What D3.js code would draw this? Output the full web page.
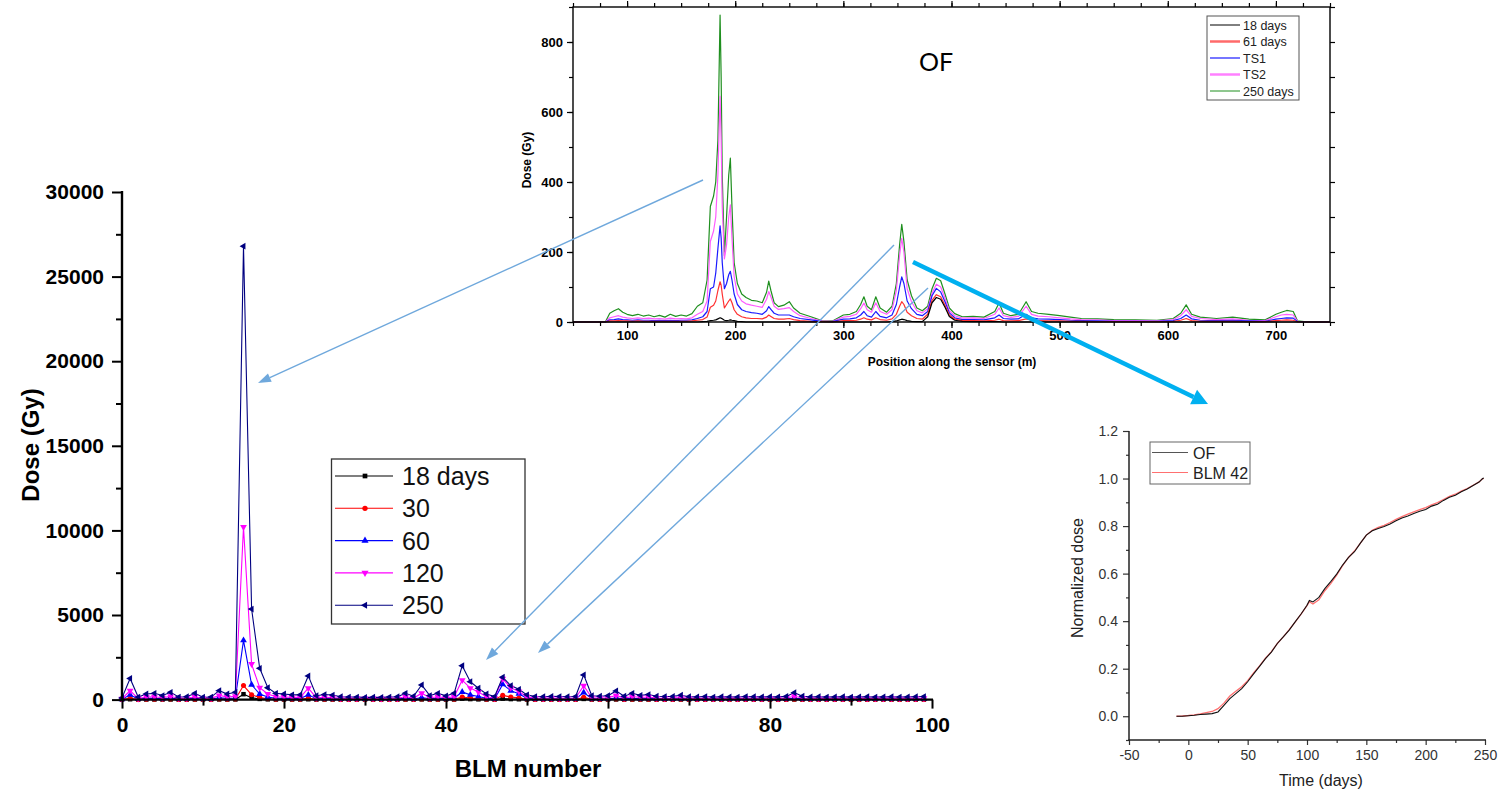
<!DOCTYPE html>
<html>
<head>
<meta charset="utf-8">
<script src="https://cdn.jsdelivr.net/npm/d3@7"></script>
<style>
  body { margin: 0; background: #fff; }
  svg { display: block; }
  text { font-family: "Liberation Sans", Arial, sans-serif; }
</style>
</head>
<body>
<svg id="fig" width="1500" height="792"></svg>
<script>
// ---- main chart: dose per BLM ----
const blmNumbers = d3.range(0, 100);
const blmLabels = ["18 days", "30", "60", "120", "250"];
const dose18 = [
  5, 20, 5, 5, 5, 5, 5, 5, 5, 5,
  5, 5, 8, 5, 8, 320, 110, 40, 15, 5,
  5, 5, 5, 20, 5, 5, 5, 5, 5, 5,
  5, 5, 5, 5, 5, 5, 5, 10, 5, 5,
  5, 5, 60, 30, 15, 5, 5, 60, 30, 20,
  5, 5, 5, 5, 5, 5, 5, 40, 5, 5,
  5, 8, 5, 5, 5, 5, 5, 5, 5, 5,
  5, 5, 5, 5, 5, 5, 5, 5, 5, 5,
  5, 5, 5, 8, 5, 5, 5, 5, 5, 5,
  5, 5, 5, 5, 5, 5, 5, 5, 5, 5
];
const dose30 = [
  5, 80, 8, 20, 25, 15, 30, 10, 10, 25,
  10, 10, 35, 20, 30, 830, 290, 120, 50, 25,
  20, 15, 15, 80, 15, 20, 15, 10, 10, 10,
  8, 8, 8, 10, 10, 25, 10, 35, 15, 25,
  15, 25, 150, 90, 60, 25, 10, 250, 150, 100,
  20, 10, 10, 10, 10, 10, 10, 140, 15, 10,
  15, 30, 10, 25, 15, 20, 10, 10, 10, 15,
  10, 10, 10, 10, 10, 10, 10, 10, 10, 10,
  10, 10, 10, 25, 10, 10, 10, 10, 10, 10,
  10, 10, 10, 10, 10, 10, 10, 10, 10, 10
];
const dose60 = [
  20, 280, 30, 70, 80, 50, 90, 30, 40, 80,
  30, 30, 110, 70, 90, 3500, 880, 330, 150, 80,
  70, 60, 60, 280, 50, 60, 50, 40, 30, 30,
  30, 30, 30, 30, 40, 80, 40, 120, 50, 80,
  50, 80, 450, 280, 180, 80, 40, 900, 520, 350,
  70, 40, 40, 40, 40, 40, 40, 420, 50, 40,
  50, 90, 40, 80, 50, 60, 40, 40, 40, 50,
  40, 30, 40, 30, 40, 30, 30, 40, 40, 30,
  40, 30, 40, 80, 40, 30, 40, 30, 30, 40,
  30, 30, 40, 30, 30, 40, 30, 30, 40, 40
];
const dose120 = [
  50, 530, 60, 150, 170, 110, 200, 70, 80, 170,
  60, 70, 250, 150, 200, 10200, 2100, 700, 330, 170,
  150, 130, 130, 680, 100, 140, 120, 80, 70, 70,
  60, 70, 60, 70, 80, 170, 90, 380, 110, 170,
  100, 170, 1150, 680, 450, 170, 90, 1230, 700, 480,
  150, 90, 80, 90, 80, 80, 90, 820, 110, 90,
  110, 250, 90, 180, 120, 150, 90, 80, 90, 120,
  80, 70, 80, 70, 80, 70, 70, 80, 80, 70,
  80, 70, 90, 200, 90, 70, 80, 70, 70, 80,
  70, 70, 80, 70, 70, 80, 70, 70, 80, 80
];
const dose250 = [
  100, 1250, 150, 330, 370, 240, 430, 150, 170, 370,
  140, 150, 530, 330, 430, 26800, 5350, 1850, 700, 370,
  330, 280, 280, 1400, 230, 300, 270, 170, 150, 150,
  130, 140, 130, 150, 170, 370, 200, 870, 240, 370,
  220, 370, 2000, 1060, 670, 330, 180, 1320, 830, 610,
  280, 180, 170, 190, 180, 170, 180, 1460, 230, 200,
  230, 510, 200, 370, 250, 300, 200, 180, 190, 260,
  170, 160, 180, 150, 170, 160, 150, 180, 170, 160,
  170, 160, 190, 410, 200, 160, 170, 150, 160, 170,
  150, 160, 170, 150, 160, 170, 150, 160, 170, 180
];
const mainTicksY = [0, 5000, 10000, 15000, 20000, 25000, 30000];
const mainTicksX = [0, 20, 40, 60, 80, 100];

// ---- inset: OF dose along the sensor ----
const ofPos = [
  50, 70, 80, 84, 88, 92, 96, 100, 105, 110,
  115, 120, 125, 130, 135, 140, 145, 150, 155, 160,
  165, 170, 174, 177, 180, 182, 184, 186, 187, 188,
  190, 192, 194, 195.5, 197, 199, 202, 206, 210, 215,
  220, 225, 229, 231, 233, 236, 240, 245, 250, 254,
  260, 270, 280, 290, 300, 306, 312, 316, 319, 322,
  326, 330, 334, 340, 345, 349, 352, 354, 356, 359,
  363, 368, 373, 378, 382, 386, 390, 394, 398, 403,
  410, 420, 430, 440, 444, 448, 455, 462, 469, 474,
  480, 490, 500, 510, 520, 535, 550, 570, 590, 605,
  612, 617, 622, 630, 645, 660, 675, 690, 700, 705,
  710, 716, 720, 730, 750
];
const of18 = [
  0, 0, 0, 0, 0, 0, 0, 0, 0, 0,
  0, 0, 0, 0, 0, 0, 0, 0, 0, 0,
  0, 1, 2, 4, 5, 6, 9, 12, 11, 9,
  5, 4, 5, 6, 5, 4, 2, 1, 0, 0,
  0, 0, 0, 0, 0, 0, 0, 0, 0, 0,
  0, 0, 0, 0, 0, 0, 0, 0, 0, 0,
  0, 0, 0, 0, 1, 3, 6, 8, 7, 4,
  2, 1, 1, 15, 55, 70, 65, 42, 16, 5,
  2, 1, 1, 1, 1, 0, 0, 0, 0, 0,
  0, 0, 0, 0, 0, 0, 0, 0, 0, 0,
  0, 0, 0, 0, 0, 0, 0, 0, 0, 0,
  0, 0, 0, 0, 0
];
const of61 = [
  0, 0, 0, 3, 3, 4, 3, 3, 2, 3,
  2, 2, 2, 2, 2, 2, 2, 2, 2, 3,
  5, 7, 14, 42, 48, 60, 90, 115, 105, 80,
  40, 50, 60, 66, 55, 35, 22, 15, 12, 10,
  10, 9, 14, 20, 16, 10, 8, 8, 10, 7,
  4, 2, 1, 0, 4, 4, 5, 8, 12, 8,
  6, 12, 7, 5, 9, 22, 45, 58, 50, 28,
  18, 10, 8, 22, 62, 78, 72, 48, 20, 8,
  4, 4, 3, 5, 8, 4, 3, 4, 9, 5,
  4, 3, 3, 2, 2, 1, 1, 1, 1, 2,
  5, 10, 4, 2, 2, 2, 1, 1, 4, 5,
  6, 5, 0, 0, 0
];
const ofTS1 = [
  0, 0, 0, 6, 7, 9, 7, 6, 5, 6,
  5, 5, 4, 5, 4, 5, 4, 5, 5, 6,
  10, 15, 30, 95, 100, 140, 210, 275, 240, 170,
  95, 110, 135, 145, 120, 80, 50, 35, 30, 27,
  25, 22, 32, 44, 36, 25, 20, 20, 20, 15,
  10, 6, 2, 1, 8, 9, 12, 20, 30, 18,
  14, 30, 16, 12, 20, 50, 100, 129, 110, 60,
  38, 22, 18, 30, 75, 96, 86, 58, 26, 12,
  7, 7, 6, 12, 20, 10, 8, 9, 22, 12,
  9, 8, 7, 5, 4, 3, 2, 2, 2, 4,
  10, 20, 9, 5, 4, 5, 3, 2, 8, 10,
  12, 11, 1, 0, 0
];
const ofTS2 = [
  0, 0, 0, 12, 15, 18, 14, 12, 10, 12,
  10, 11, 9, 10, 8, 11, 9, 10, 9, 12,
  22, 30, 60, 230, 260, 300, 420, 645, 520, 330,
  180, 220, 300, 335, 240, 130, 80, 60, 52, 48,
  45, 42, 65, 87, 72, 45, 36, 38, 41, 30,
  18, 10, 3, 2, 14, 16, 22, 38, 54, 35,
  28, 55, 30, 22, 35, 90, 190, 239, 200, 95,
  58, 32, 26, 38, 82, 108, 100, 68, 32, 18,
  11, 12, 10, 22, 40, 18, 13, 16, 45, 22,
  17, 15, 12, 9, 7, 6, 4, 4, 3, 7,
  18, 35, 16, 10, 7, 9, 5, 4, 15, 20,
  22, 20, 2, 0, 0
];
const of250 = [
  0, 0, 1, 25, 32, 38, 28, 22, 18, 22,
  17, 20, 15, 19, 14, 22, 16, 20, 17, 24,
  45, 55, 120, 330, 360, 400, 520, 877, 700, 420,
  190, 300, 420, 468, 330, 170, 110, 80, 70, 62,
  60, 55, 85, 117, 90, 55, 44, 48, 58, 40,
  25, 15, 4, 3, 20, 22, 30, 50, 72, 45,
  35, 72, 40, 28, 45, 110, 220, 279, 230, 120,
  75, 40, 32, 45, 95, 125, 118, 80, 40, 24,
  15, 16, 14, 30, 54, 25, 18, 22, 58, 30,
  25, 22, 18, 14, 10, 9, 7, 6, 5, 10,
  25, 49, 22, 14, 10, 14, 8, 6, 22, 28,
  33, 30, 3, 0, 0
];
const ofLabels = ["18 days", "61 days", "TS1", "TS2", "250 days"];

// ---- inset: normalized dose vs time ----
const timeDays = [
  -10, -5, 0, 5, 10, 15, 20, 25, 30, 35,
  40, 45, 50, 55, 60, 65, 70, 75, 80, 85,
  90, 95, 100, 102, 105, 110, 115, 120, 125, 130,
  135, 140, 145, 150, 155, 160, 165, 170, 175, 180,
  185, 190, 195, 200, 205, 210, 215, 220, 225, 230,
  235, 240, 245, 248, 249
];
const normOF = [
  0, 0, 0.002, 0.004, 0.007, 0.009, 0.011, 0.018, 0.046, 0.074,
  0.095, 0.116, 0.145, 0.178, 0.21, 0.242, 0.27, 0.306, 0.334, 0.362,
  0.397, 0.43, 0.467, 0.487, 0.481, 0.5, 0.537, 0.566, 0.598, 0.636,
  0.668, 0.692, 0.728, 0.762, 0.78, 0.79, 0.798, 0.809, 0.822, 0.834,
  0.842, 0.853, 0.862, 0.87, 0.884, 0.892, 0.908, 0.921, 0.93, 0.944,
  0.956, 0.971, 0.985, 1.0, 1.002
];
const normBLM = [
  0, 0.001, 0.003, 0.006, 0.01, 0.015, 0.02, 0.032, 0.055, 0.085,
  0.105, 0.124, 0.15, 0.182, 0.212, 0.244, 0.272, 0.306, 0.334, 0.364,
  0.396, 0.43, 0.465, 0.482, 0.472, 0.49, 0.528, 0.558, 0.594, 0.634,
  0.668, 0.695, 0.728, 0.762, 0.782, 0.795, 0.803, 0.815, 0.828, 0.84,
  0.85, 0.86, 0.869, 0.878, 0.889, 0.899, 0.912, 0.925, 0.934, 0.947,
  0.958, 0.972, 0.986, 1.0, 1.0
];
const normLabels = ["OF", "BLM 42"];

const svg = d3.select("#fig");
const plain = d => String(d);   // keep a plain hyphen for negatives

// =============== inset OF chart (top) ===============
{
  const x = d3.scaleLinear().domain([50, 750]).range([573, 1330]);
  const y = d3.scaleLinear().domain([0, 900]).range([322, 7]);
  const g = svg.append("g");
  const series = [
    { v: of18, c: "#000000" },
    { v: of61, c: "#ff3030" },
    { v: ofTS1, c: "#1a1aff" },
    { v: ofTS2, c: "#ff5cff" },
    { v: of250, c: "#1f8f1f" }
  ];
  // green first, the smaller doses drawn over it
  const order = [4, 3, 2, 1, 0];
  const line = d3.line().x((d, i) => x(ofPos[i])).y(d => y(d));
  order.forEach(k => {
    g.append("path").datum(series[k].v)
      .attr("d", line).attr("fill", "none")
      .attr("stroke", series[k].c).attr("stroke-width", 1.2)
      .attr("stroke-linejoin", "round");
  });

  const bold = s => s.style("font-weight", "bold").style("font-size", "13px");
  const xMaj = [100, 200, 300, 400, 500, 600, 700];
  const xMin = d3.range(50, 751, 25);
  const yMaj = [0, 200, 400, 600, 800];
  const yMin = d3.range(0, 901, 100);

  const mk = (axis, tr) => {
    const a = g.append("g").attr("transform", tr).call(axis);
    a.select(".domain").remove();
    a.selectAll("line").attr("stroke", "#000").attr("stroke-width", 1.2);
    return a;
  };
  mk(d3.axisBottom(x).tickValues(xMin).tickSize(4).tickFormat(""), "translate(0,322)");
  mk(d3.axisBottom(x).tickValues(xMaj).tickSize(6).tickPadding(3).tickFormat(plain), "translate(0,322)")
    .selectAll("text").call(bold).attr("fill", "#000");
  mk(d3.axisTop(x).tickValues(xMin).tickSize(4).tickFormat(""), "translate(0,7)");
  mk(d3.axisTop(x).tickValues(xMaj).tickSize(6).tickFormat(""), "translate(0,7)");
  mk(d3.axisLeft(y).tickValues(yMin).tickSize(4).tickFormat(""), "translate(573,0)");
  mk(d3.axisLeft(y).tickValues(yMaj).tickSize(6).tickPadding(4).tickFormat(plain), "translate(573,0)")
    .selectAll("text").call(bold).attr("fill", "#000");
  mk(d3.axisRight(y).tickValues(yMin).tickSize(5).tickFormat(""), "translate(1330,0)");

  g.append("rect").attr("x", 573).attr("y", 7).attr("width", 757).attr("height", 315)
    .attr("fill", "none").attr("stroke", "#000").attr("stroke-width", 1.4);

  g.append("text").attr("transform", "translate(531,160) rotate(-90)")
    .attr("text-anchor", "middle").style("font-weight", "bold").style("font-size", "12px")
    .text("Dose (Gy)");
  g.append("text").attr("x", 952).attr("y", 366).attr("text-anchor", "middle")
    .style("font-weight", "bold").style("font-size", "12px")
    .text("Position along the sensor (m)");
  g.append("text").attr("x", 919).attr("y", 71)
    .style("font-family", "Lato, 'Open Sans', sans-serif").style("font-size", "25px")
    .text("OF");

  // legend
  const lg = g.append("g");
  lg.append("rect").attr("x", 1207).attr("y", 16).attr("width", 92).attr("height", 84)
    .attr("fill", "#fff").attr("stroke", "#555").attr("stroke-width", 1);
  const legCol = ["#000000", "#ff6a6a", "#1a1aff", "#ff80ff", "#1f8f1f"];
  const legW = [1, 2.5, 1.2, 2.5, 1];
  ofLabels.forEach((t, i) => {
    const yy = 25 + i * 16.5;
    lg.append("line").attr("x1", 1210).attr("x2", 1240).attr("y1", yy).attr("y2", yy)
      .attr("stroke", legCol[i]).attr("stroke-width", legW[i]);
    lg.append("text").attr("x", 1243).attr("y", yy + 4.5).style("font-size", "12.5px")
      .attr("fill", "#222").text(t);
  });
}

// =============== main chart ===============
{
  const x = d3.scaleLinear().domain([0, 100]).range([122, 932]);
  const y = d3.scaleLinear().domain([0, 30000]).range([699.6, 192]);
  const g = svg.append("g");

  const series = [
    { v: dose18, c: "#000000", sym: d3.symbolSquare, rot: 0 },
    { v: dose30, c: "#ff0000", sym: d3.symbolCircle, rot: 0 },
    { v: dose60, c: "#0000ff", sym: d3.symbolTriangle, rot: 0 },
    { v: dose120, c: "#ff00ff", sym: d3.symbolTriangle, rot: 180 },
    { v: dose250, c: "#000080", sym: d3.symbolTriangle, rot: -90 }
  ];
  const line = d3.line().x((d, i) => x(blmNumbers[i])).y(d => y(d));
  series.forEach(s => {
    g.append("path").datum(s.v).attr("d", line).attr("fill", "none")
      .attr("stroke", s.c).attr("stroke-width", 1.1);
  });
  series.forEach(s => {
    g.append("g").selectAll("path").data(s.v).join("path")
      .attr("d", d3.symbol().type(s.sym).size(20))
      .attr("transform", (d, i) => `translate(${x(blmNumbers[i])},${y(d)}) rotate(${s.rot})`)
      .attr("fill", s.c);
  });

  const bold = s => s.style("font-weight", "bold").style("font-size", "21px").attr("fill", "#000");
  const mk = (axis, tr) => {
    const a = g.append("g").attr("transform", tr).call(axis);
    a.select(".domain").remove();
    a.selectAll("line").attr("stroke", "#000").attr("stroke-width", 2);
    return a;
  };
  mk(d3.axisLeft(y).tickValues(d3.range(2500, 30000, 5000)).tickSize(6).tickFormat(""), "translate(122,0)");
  mk(d3.axisLeft(y).tickValues(mainTicksY).tickSize(10).tickPadding(8).tickFormat(plain), "translate(122,0)")
    .selectAll("text").call(bold);
  mk(d3.axisBottom(x).tickValues(d3.range(10, 100, 20)).tickSize(6).tickFormat(""), "translate(0,699.6)");
  mk(d3.axisBottom(x).tickValues(mainTicksX).tickSize(9).tickPadding(8).tickFormat(plain), "translate(0,699.6)")
    .selectAll("text").call(bold);
  g.append("line").attr("x1", 122).attr("x2", 122).attr("y1", 191).attr("y2", 700.6)
    .attr("stroke", "#000").attr("stroke-width", 2.4);
  g.append("line").attr("x1", 121).attr("x2", 933).attr("y1", 699.6).attr("y2", 699.6)
    .attr("stroke", "#000").attr("stroke-width", 2.4);

  g.append("text").attr("transform", "translate(39,445) rotate(-90)").attr("text-anchor", "middle")
    .style("font-weight", "bold").style("font-size", "24px").text("Dose (Gy)");
  g.append("text").attr("x", 528).attr("y", 777).attr("text-anchor", "middle")
    .style("font-weight", "bold").style("font-size", "24px").text("BLM number");

  // legend
  const lg = g.append("g");
  lg.append("rect").attr("x", 331.5).attr("y", 459).attr("width", 193.5).attr("height", 165)
    .attr("fill", "#fff").attr("stroke", "#333").attr("stroke-width", 1.3);
  blmLabels.forEach((t, i) => {
    const yy = 476 + i * 32.3;
    const s = series[i];
    lg.append("line").attr("x1", 335).attr("x2", 393).attr("y1", yy).attr("y2", yy)
      .attr("stroke", s.c).attr("stroke-width", 1.1);
    lg.append("path").attr("d", d3.symbol().type(s.sym).size(22))
      .attr("transform", `translate(365,${yy}) rotate(${s.rot})`).attr("fill", s.c);
    lg.append("text").attr("x", 402).attr("y", yy + 9).style("font-size", "25px")
      .attr("fill", "#111").text(t);
  });
}

// =============== inset normalized dose (bottom right) ===============
{
  const x = d3.scaleLinear().domain([-50, 250]).range([1129, 1485]);
  const y = d3.scaleLinear().domain([-0.1, 1.2]).range([740, 431]);
  const g = svg.append("g");
  const line = d3.line().x((d, i) => x(timeDays[i])).y(d => y(d));
  g.append("path").datum(normBLM).attr("d", line).attr("fill", "none")
    .attr("stroke", "#ff7070").attr("stroke-width", 1.3);
  g.append("path").datum(normOF).attr("d", line).attr("fill", "none")
    .attr("stroke", "#111").attr("stroke-width", 1.1);

  const txt = s => s.style("font-size", "14px").attr("fill", "#333");
  const mk = (axis, tr) => {
    const a = g.append("g").attr("transform", tr).call(axis);
    a.select(".domain").remove();
    a.selectAll("line").attr("stroke", "#333").attr("stroke-width", 1.2);
    return a;
  };
  mk(d3.axisLeft(y).tickValues(d3.range(-0.1, 1.2, 0.2)).tickSize(3).tickFormat(""), "translate(1129,0)");
  mk(d3.axisLeft(y).tickValues([0, 0.2, 0.4, 0.6, 0.8, 1.0, 1.2]).tickSize(6).tickPadding(5)
    .tickFormat(d => d.toFixed(1)), "translate(1129,0)").selectAll("text").call(txt);
  mk(d3.axisBottom(x).tickValues(d3.range(-25, 250, 50)).tickSize(3).tickFormat(""), "translate(0,740)");
  mk(d3.axisBottom(x).tickValues([-50, 0, 50, 100, 150, 200, 250]).tickSize(5).tickPadding(5)
    .tickFormat(plain), "translate(0,740)").selectAll("text").call(txt);
  g.append("line").attr("x1", 1129).attr("x2", 1129).attr("y1", 431).attr("y2", 740.6)
    .attr("stroke", "#222").attr("stroke-width", 1.5);
  g.append("line").attr("x1", 1128.4).attr("x2", 1486).attr("y1", 740).attr("y2", 740)
    .attr("stroke", "#222").attr("stroke-width", 1.5);

  g.append("text").attr("transform", "translate(1083,578) rotate(-90)").attr("text-anchor", "middle")
    .style("font-size", "16px").attr("fill", "#222").text("Normalized dose");
  g.append("text").attr("x", 1321).attr("y", 786).attr("text-anchor", "middle")
    .style("font-size", "16px").attr("fill", "#222").text("Time (days)");

  const lg = g.append("g");
  lg.append("rect").attr("x", 1150).attr("y", 442).attr("width", 100).attr("height", 42)
    .attr("fill", "#fff").attr("stroke", "#666").attr("stroke-width", 1);
  const cols = ["#555", "#ff7070"];
  normLabels.forEach((t, i) => {
    const yy = 452.5 + i * 20;
    lg.append("line").attr("x1", 1152).attr("x2", 1188).attr("y1", yy).attr("y2", yy)
      .attr("stroke", cols[i]).attr("stroke-width", 1.2);
    lg.append("text").attr("x", 1193).attr("y", yy + 6).style("font-size", "16px")
      .attr("fill", "#222").text(t);
  });
}

// =============== connecting arrows ===============
function arrow(x1, y1, x2, y2, color, w, hl, hw) {
  const a = Math.atan2(y2 - y1, x2 - x1);
  const bx = x2 - hl * Math.cos(a), by = y2 - hl * Math.sin(a);
  const px = Math.sin(a) * hw / 2, py = -Math.cos(a) * hw / 2;
  svg.append("line").attr("x1", x1).attr("y1", y1).attr("x2", bx).attr("y2", by)
    .attr("stroke", color).attr("stroke-width", w);
  svg.append("path").attr("d", `M${x2},${y2}L${bx + px},${by + py}L${bx - px},${by - py}Z`)
    .attr("fill", color);
}
arrow(703, 180, 258, 383, "#6fa8dc", 1.4, 13, 9);
arrow(894, 245, 486, 660, "#6fa8dc", 1.4, 13, 9);
arrow(928, 288, 538, 653, "#6fa8dc", 1.4, 13, 9);
arrow(913, 262, 1208, 404, "#00b0f0", 4.5, 16, 16);
</script>
</body>
</html>
